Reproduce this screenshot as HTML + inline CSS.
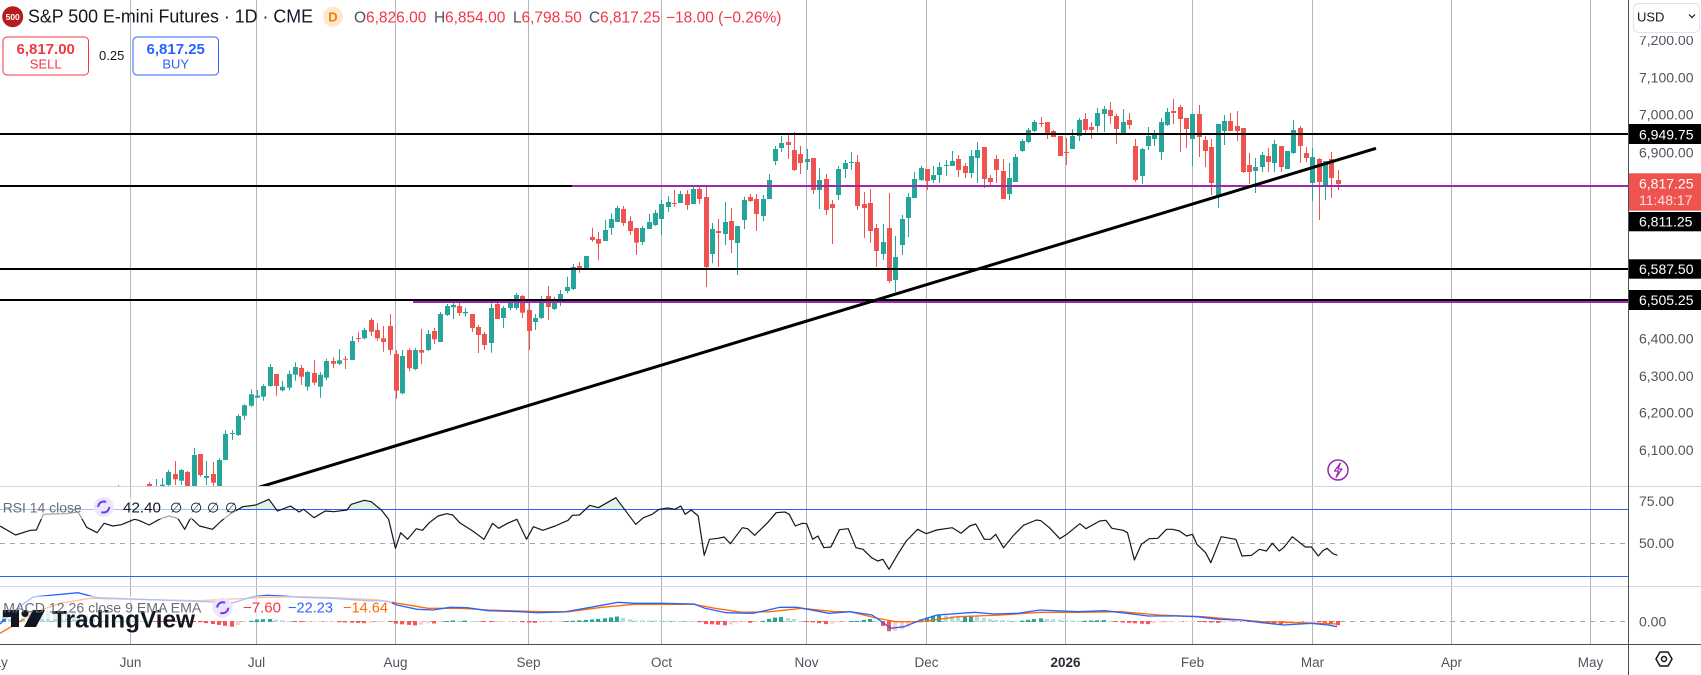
<!DOCTYPE html>
<html><head><meta charset="utf-8">
<style>
html,body{margin:0;padding:0;background:#fff;width:1701px;height:675px;overflow:hidden}
svg{display:block;font-family:"Liberation Sans","DejaVu Sans",sans-serif}
</style></head><body>
<svg id="c" width="1701" height="675" viewBox="0 0 1701 675" xmlns="http://www.w3.org/2000/svg">
<defs>
<clipPath id="pp"><rect x="0" y="0" width="1628" height="486"/></clipPath>
<clipPath id="rp"><rect x="0" y="487" width="1628" height="99"/></clipPath>
<clipPath id="ob"><rect x="0" y="487" width="1628" height="22"/></clipPath>
<clipPath id="mp"><rect x="0" y="587" width="1628" height="57"/></clipPath>
</defs>
<rect width="1701" height="675" fill="#fff"/>

<!-- vertical grid -->
<g stroke="#b2b5be" stroke-width="1">
<line x1="130.5" y1="0" x2="130.5" y2="644"/>
<line x1="256.5" y1="0" x2="256.5" y2="644"/>
<line x1="395.5" y1="0" x2="395.5" y2="644"/>
<line x1="528.5" y1="0" x2="528.5" y2="644"/>
<line x1="661.5" y1="0" x2="661.5" y2="644"/>
<line x1="806.5" y1="0" x2="806.5" y2="644"/>
<line x1="926.5" y1="0" x2="926.5" y2="644"/>
<line x1="1065.5" y1="0" x2="1065.5" y2="644"/>
<line x1="1192.5" y1="0" x2="1192.5" y2="644"/>
<line x1="1312.5" y1="0" x2="1312.5" y2="644"/>
<line x1="1451.5" y1="0" x2="1451.5" y2="644"/>
<line x1="1590.5" y1="0" x2="1590.5" y2="644"/>
</g>

<!-- pane separators -->
<line x1="0" y1="486.5" x2="1701" y2="486.5" stroke="#d1d4dc" stroke-width="1"/>
<line x1="0" y1="586.5" x2="1701" y2="586.5" stroke="#d1d4dc" stroke-width="1"/>

<!-- candles -->
<g id="candles" clip-path="url(#pp)"></g>

<!-- horizontal drawings -->
<g clip-path="url(#pp)">
<line x1="0" y1="134" x2="1628" y2="134" stroke="#000" stroke-width="2"/>
<line x1="0" y1="186" x2="572" y2="186" stroke="#000" stroke-width="2"/>
<line x1="572" y1="186" x2="1628" y2="186" stroke="#9c27b0" stroke-width="2"/>
<line x1="0" y1="269" x2="1628" y2="269" stroke="#000" stroke-width="2"/>
<line x1="0" y1="300" x2="1628" y2="300" stroke="#000" stroke-width="2"/>
<line x1="413" y1="302" x2="1628" y2="302" stroke="#9c27b0" stroke-width="2"/>
<line x1="250" y1="490" x2="1376" y2="148.3" stroke="#000" stroke-width="3"/>
</g>

<!-- lightning icon -->
<circle cx="1338" cy="470" r="10" fill="#fff" stroke="#9c27b0" stroke-width="1.5"/>
<path d="M1340.5 463 L1334.5 471 H1338.5 L1336 477.5 L1342 469 H1338 Z" fill="none" stroke="#9c27b0" stroke-width="1.2" stroke-linejoin="round"/>

<!-- RSI pane -->
<g clip-path="url(#rp)">
<line x1="0" y1="543.5" x2="1628" y2="543.5" stroke="#a3a6af" stroke-width="1" stroke-dasharray="5 5"/>
<g id="rfill"></g>
<rect x="0" y="509" width="1628" height="1" fill="#2962ff"/>
<rect x="0" y="576" width="1628" height="1" fill="#2962ff"/>
<g id="rsi"></g>
</g>

<!-- MACD pane -->
<g clip-path="url(#mp)">
<line x1="0" y1="621.5" x2="1628" y2="621.5" stroke="#a3a6af" stroke-width="1" stroke-dasharray="5 5"/>
<g id="hist"></g>
<g id="macd"></g>
</g>

<!-- axes -->
<line x1="0" y1="644.5" x2="1701" y2="644.5" stroke="#4a4e59" stroke-width="1"/>
<line x1="1628.5" y1="0" x2="1628.5" y2="675" stroke="#4a4e59" stroke-width="1"/>

<!-- price axis labels -->
<g font-size="14" fill="#50535e">
<text x="1639" y="45">7,200.00</text>
<text x="1639" y="82.3">7,100.00</text>
<text x="1639" y="119.3">7,000.00</text>
<text x="1639" y="157.3">6,900.00</text>
<text x="1639" y="343.3">6,400.00</text>
<text x="1639" y="381">6,300.00</text>
<text x="1639" y="417.7">6,200.00</text>
<text x="1639" y="455">6,100.00</text>
<text x="1639" y="506">75.00</text>
<text x="1639" y="548">50.00</text>
<text x="1639" y="626.7">0.00</text>
</g>
<rect x="1629" y="0" width="72" height="36" fill="#fff"/>
<rect x="1633.5" y="3.5" width="66" height="29" rx="5" fill="#fff" stroke="#e0e3eb"/>
<text x="1637" y="21.7" font-size="13" fill="#131722">USD</text>
<polyline points="1689,14.5 1692,17.5 1695,14.5" fill="none" stroke="#131722" stroke-width="1.2"/>

<g font-size="14" fill="#fff">
<rect x="1629" y="124" width="72" height="20" fill="#000"/>
<text x="1639" y="139.3">6,949.75</text>
<rect x="1629" y="173.3" width="72" height="37.4" fill="#ef5350"/>
<text x="1639" y="188.3">6,817.25</text>
<text x="1639" y="205" fill="#fde0e0">11:48:17</text>
<rect x="1629" y="212" width="72" height="19.3" fill="#000"/>
<text x="1639" y="226.5">6,811.25</text>
<rect x="1629" y="259.3" width="72" height="19.4" fill="#000"/>
<text x="1639" y="274">6,587.50</text>
<rect x="1629" y="290" width="72" height="20" fill="#000"/>
<text x="1639" y="305">6,505.25</text>
</g>

<!-- time axis labels -->
<g font-size="13.5" fill="#50535e" text-anchor="middle">
<text x="-5" y="667">May</text>
<text x="130.5" y="667">Jun</text>
<text x="256.5" y="667">Jul</text>
<text x="395.5" y="667">Aug</text>
<text x="528.5" y="667">Sep</text>
<text x="661.5" y="667">Oct</text>
<text x="806.5" y="667">Nov</text>
<text x="926.5" y="667">Dec</text>
<text x="1065.5" y="667" font-weight="bold" fill="#2a2e39">2026</text>
<text x="1192.5" y="667">Feb</text>
<text x="1312.5" y="667">Mar</text>
<text x="1451.5" y="667">Apr</text>
<text x="1590.5" y="667">May</text>
</g>
<polygon points="1656,659 1660,652 1668,652 1672,659 1668,666 1660,666" fill="none" stroke="#131722" stroke-width="1.5"/>
<circle cx="1664" cy="659" r="2.5" fill="none" stroke="#131722" stroke-width="1.5"/>

<!-- header -->
<circle cx="12.7" cy="16.7" r="10.5" fill="#b71c1c"/>
<text x="12.7" y="19.8" font-size="8.5" font-weight="bold" fill="#fff" text-anchor="middle">500</text>
<text x="28" y="22.7" font-size="18" fill="#131722" textLength="285" lengthAdjust="spacingAndGlyphs">S&amp;P 500 E-mini Futures · 1D · CME</text>
<circle cx="333" cy="16.7" r="10" fill="#ffe6cc"/>
<text x="333" y="21.5" font-size="13" font-weight="bold" fill="#f57c00" text-anchor="middle">D</text>
<g font-size="15.5">
<text x="354" y="22.7" fill="#50535e">O</text>
<text x="366" y="22.7" fill="#f23645">6,826.00</text>
<text x="434" y="22.7" fill="#50535e">H</text>
<text x="445" y="22.7" fill="#f23645">6,854.00</text>
<text x="513" y="22.7" fill="#50535e">L</text>
<text x="521.5" y="22.7" fill="#f23645">6,798.50</text>
<text x="589" y="22.7" fill="#50535e">C</text>
<text x="600" y="22.7" fill="#f23645">6,817.25</text>
<text x="666" y="22.7" fill="#f23645">−18.00 (−0.26%)</text>
</g>
<rect x="3" y="37" width="85.5" height="38" rx="4" fill="#fff" stroke="#f23645" stroke-width="1"/>
<text x="45.7" y="54" font-size="15" font-weight="bold" fill="#f23645" text-anchor="middle">6,817.00</text>
<text x="45.7" y="68.3" font-size="13" fill="#f23645" text-anchor="middle">SELL</text>
<text x="99" y="60" font-size="13" fill="#131722">0.25</text>
<rect x="133" y="37" width="85.5" height="38" rx="4" fill="#fff" stroke="#2962ff" stroke-width="1"/>
<text x="175.7" y="54" font-size="15" font-weight="bold" fill="#2962ff" text-anchor="middle">6,817.25</text>
<text x="175.7" y="68.3" font-size="13" fill="#2962ff" text-anchor="middle">BUY</text>

<!-- RSI legend -->
<rect x="0" y="497" width="236" height="22" fill="#fff" fill-opacity="0.6"/>
<text x="2.7" y="512.7" font-size="14" fill="#6a6d78" textLength="79" lengthAdjust="spacingAndGlyphs">RSI 14 close</text>
<circle cx="103.7" cy="507" r="10" fill="#ece5fd"/>
<circle cx="103.7" cy="507" r="5.5" fill="none" stroke="#6c3ce9" stroke-width="2" stroke-dasharray="11 6.3"/>
<text x="123" y="512.7" font-size="15" fill="#131722" textLength="38" lengthAdjust="spacingAndGlyphs">42.40</text>
<g font-size="14" fill="#131722">
<text x="170" y="512.7">∅</text><text x="190" y="512.7">∅</text><text x="207" y="512.7">∅</text><text x="225" y="512.7">∅</text>
</g>

<!-- MACD legend + watermark -->
<rect x="0" y="596" width="392" height="23" fill="#fff" fill-opacity="0.6"/>
<g fill="#131722">
<path d="M3 610 H19 V627 H11 V617 H3 Z"/>
<circle cx="25" cy="613.5" r="3.5"/>
<path d="M33 610 H45 L36 627 H24 Z"/>
<text x="52" y="627.3" font-size="24" font-weight="bold" textLength="143" lengthAdjust="spacingAndGlyphs">TradingView</text>
</g>
<text x="3.3" y="612.7" font-size="14" fill="#6a6d78" textLength="198" lengthAdjust="spacingAndGlyphs">MACD 12 26 close 9 EMA EMA</text>
<circle cx="222.7" cy="607.7" r="10" fill="#ece5fd"/>
<circle cx="222.7" cy="607.7" r="5.5" fill="none" stroke="#6c3ce9" stroke-width="2" stroke-dasharray="11 6.3"/>
<g font-size="15">
<text x="243" y="612.7" fill="#f23645" textLength="38" lengthAdjust="spacingAndGlyphs">−7.60</text>
<text x="288" y="612.7" fill="#2962ff" textLength="45" lengthAdjust="spacingAndGlyphs">−22.23</text>
<text x="343" y="612.7" fill="#ff6d00" textLength="45" lengthAdjust="spacingAndGlyphs">−14.64</text>
</g>
</svg>
<script>
(function(){
var NS='http://www.w3.org/2000/svg';
function mk(t,a,p){var e=document.createElementNS(NS,t);for(var k in a)e.setAttribute(k,a[k]);p.appendChild(e);return e;}
var D=[
[487,485,495,490],[492,489,498,494],[494,490,499,491],[491,488,497,493],[493,489,498,490],
[484,482,490,487],[490,479,492,486],[486,478.3,490,484.7],[485,470,487,472],[474,461,485,479.3],[480.7,469,485,470],[472,471,492,490],[490,447.7,492,455],[454,454,476.7,475],[478,461,485,476],[474,462,487,482.7],[487,458.3,488,460],[460,430.3,460,434],[434,430,440,433],[435,414.3,436,416],[415.7,404.3,420,405.3],[405.7,389.3,406.7,394.3],
[397.7,390,397.7,395.7],[396.7,384.3,400.7,386],[386,364,386.7,367],[374,374,395.7,386],[390.3,381,391.3,386.7],[387.7,370.7,390.3,374],[374.7,362.3,380.7,367],[368,365,385,376.7],[386.7,370.7,390.7,372],[373,360,385,382.7],
[386.7,372,397.7,374.7],[377.7,358.7,380,361],[361,357.3,368.3,363.7],[363.7,349,365,360.3],[358.7,356,369,359.7],[360,336,360,341],[338,331.7,342,339],[338.3,328,339.3,330],[320,318,336,331.7],[330,323,340.7,338.3],
[338.3,326,351.7,342],[326,314,355,350],[354,350,398.7,390.7],[393.3,350,394.3,356],[350,348.3,371.3,368.3],[369,348.3,370.3,350],[350,329,364,352.7],[350,330,351,334],[331,328,344,339.3],[342,312,342,314],
[315,304,316,306],[307.3,300,319,305],[306,300,316,313],[313.3,308,316.7,312],[314,314,332,328],[327,325,353,335],[334,332,350,345],[343,303.3,352.7,308],[304,301.7,319,319],[318,306,328,308],
[308,300,310,302.7],[308,293,310,295],[296,295,318,312.7],[310,300,350,331],[322,314,330,318],[318,296,319,299],[296,286,320,307],[309,296.7,310,300],[300,290,306,294],[291,276.7,293.3,287],
[289,264,290,267],[266,262,272.7,268.7],[268,256,268,256],[237,227.7,241.7,240],[239,232,260,243.7],[241,220,241,230],[228,213.3,235,219],[222,206,222,208],[209,206,226,223],[221,216,235,231],
[228,228,255,242.7],[242,226,245,228],[229,214,229,222],[225,210,226,213],[219,200,235,204],[207,196,212,202],[203,190,206.7,204],[203,191,203,194],[194,190,210,205],[204,186,204,189],
[189,186,204,199],[197,186,287,267],[254,223,263.3,229],[231,219,267,233],[234,202,245,222],[221,208,253,240],[243,226,275,226],[220,196.7,229,200],[197,194,202,201],[199,194,231,214],
[216,195,221,199],[199,174,199,180],[161,146,165,149],[148,136,152,143],[142,134,159,145],[150,132,171,170],[154,146,174,163],[162,149,170,159],[158,158,194,190],[190,168,209,180],
[179,174,215,210],[204,200,244,208],[195,166,200,169],[169,160,178,163],[163,152,170,162],[162,155,210,206],[204,192,238,208],[203,189,242.7,231],[228,224,267,251],[254,224,260,242],
[228,193,283,281],[280,236,292,257],[245,215,255,219],[218,193,237,197],[198,172,198,179],[180,166,181,168],[169,169,190,181],[180,166,183,175],[175,162,183,167],[166,160,176,165],
[166,151,166,161],[159,155,177,170],[166,163,178,173],[173,150,178,156],[158,142,183,150],[147,147,188,179],[178,175,186,182],[159,155,183,170],[171,159,199,199],[194,163,200,178],
[182,154,182,157],[151,139,152,141],[142,128,143,130],[131,120,132,122],[123,117,127,124],[122,122,139,134],[131,130,137,137],[136,136,156,156],[152,138,165,153],[149,129,149,136],
[136,118,141,120],[119,113,133,130],[127,122,139,130],[126,108,132,113],[114,106,132,109],[110,102,124,116],[116,114,144,129],[133,109,133,122],[120,113,129,125],[146,139,182,180],
[176,148,184,149],[146,127,150,136],[139,130,146,135],[152,118,160,122],[125,108,126,112],[111,99,124,113],[107,105,152,119],[118,118,148,129],[139,114,166,114],[114,105,157,137],
[140,136,167,151],[147,139,195,183],[196,124,208,124],[131,115,145,121],[121,113,131,131],[126,111,141,131],[128,128,173,172],[165,153,184,172],[171,158,193,167],[167,152,172,155],
[156,148,172,162],[163,140,172,144],[146,146,172,167],[169,151,169,151],[153,120,154,130],[128,126,163,146],[153,147,162,158],[183,148,201,157],[159,158,220,182],[185,161,200,161],
[159,152,198,178],[180,170,190,184]
];
var X0=130.5,DX=6.32;
var cg=document.getElementById('candles');
for(var j=0;j<D.length;j++){
 var i=j-2,x=X0+i*DX,d=D[j],o=d[0],h=d[1],l=d[2],c=d[3];
 var col=(c<=o)?'#26a69a':'#ef5350';
 var xr=Math.round(x);
 mk('line',{x1:xr+0.5,x2:xr+0.5,y1:h,y2:l,stroke:col,'stroke-width':1},cg);
 var top=Math.min(o,c),ht=Math.max(1,Math.abs(o-c));
 mk('rect',{x:xr-2,y:top,width:5,height:ht,fill:col},cg);
}
// RSI
var R=[0,120,18,147,35,133,42,132,50,85,60,84,75,83,90,78,100,124,112,140,120,112,130,120,140,116,155,100,160,103,172,117,185,98,195,90,205,97,213,130,220,95,230,120,245,130,255,105,265,85,280,62,295,57,310,40,320,75,335,60,345,78,350,70,362,95,375,75,385,77,400,72,405,55,420,43,428,47,440,73,448,100,456,187,462,140,470,160,480,128,487,133,495,110,505,90,515,83,522,87,530,110,545,135,558,160,568,112,575,127,585,112,596,100,607,160,615,122,626,133,640,120,655,103,660,88,668,87,680,58,690,65,710,35,720,70,733,115,742,95,752,85,760,70,770,66,778,70,785,60,790,85,797,72,805,90,812,208,818,160,828,157,835,153,842,173,856,125,862,128,870,148,885,110,895,80,905,78,910,85,917,120,925,112,930,113,937,160,943,150,950,185,958,183,968,131,978,128,987,185,995,190,1005,215,1012,225,1018,220,1025,250,1035,205,1045,165,1058,130,1068,143,1080,132,1098,125,1108,142,1118,120,1125,114,1135,160,1142,160,1148,145,1157,185,1168,150,1180,118,1195,102,1200,104,1210,125,1222,158,1230,145,1245,113,1252,128,1268,105,1275,103,1282,127,1295,133,1300,140,1308,222,1316,175,1325,158,1335,157,1345,130,1352,130,1360,135,1368,150,1375,145,1380,175,1390,200,1396,230,1408,152,1418,157,1425,160,1432,210,1443,208,1452,190,1460,195,1467,172,1475,195,1480,185,1490,152,1505,183,1512,183,1520,210,1525,195,1530,187,1537,203,1542,208];
var pts=[];for(var k=0;k<R.length;k+=2)pts.push([R[k]/1.153,486+R[k+1]/3]);
var ps=pts.map(function(p){return p[0].toFixed(1)+','+p[1].toFixed(1);}).join(' ');
mk('polygon',{points:ps+' '+pts[pts.length-1][0].toFixed(1)+',509 0,509',fill:'rgba(76,175,80,0.16)','clip-path':'url(#ob)'},document.getElementById('rfill'));
mk('polyline',{points:ps,fill:'none',stroke:'#131722','stroke-width':1.2,'stroke-linejoin':'round'},document.getElementById('rsi'));
// MACD
var B=[[0,624],[15,610],[33,597],[78,592.7],[97,597.7],[133,599],[200,601.5],[233,602.7],[253,596.7],[267,595.3],[283,596],[300,597.3],[333,598.3],[367,600.7],[387,601],[397,605],[417,609.3],[433,610],[450,607.3],[467,607.7],[488,610.7],[520,611.7],[537,612.7],[564,612],[585,608.3],[618,602.3],[634,603.3],[661,603.3],[694,604],[705,608.3],[726,612.7],[753,613.3],[780,607.3],[797,607.3],[808,609.3],[829,613.3],[850,611.7],[872,615],[891,628.3],[904,626.7],[921,620],[937,615],[975,612.3],[994,614],[1018,613.3],[1040,610],[1078,611.7],[1105,610.7],[1127,613.3],[1148,616],[1176,616],[1197,616.7],[1219,619.3],[1241,620],[1262,622.7],[1284,625],[1311,623.3],[1328,625],[1337,626.7]];
var O=[[0,633.3],[17,623.3],[33,613],[60,603.3],[90,598.3],[133,599.3],[200,600.7],[267,597.3],[300,596.7],[333,597.7],[367,599.3],[379,600],[398,603.3],[428,608.3],[461,608.3],[488,610],[542,611.7],[569,611.7],[602,607.3],[634,604.3],[694,604.3],[715,608.3],[742,612.3],[770,611.7],[802,608.3],[835,611.7],[850,611.7],[877,618.3],[896,621.7],[921,621.7],[958,616.7],[1002,615],[1040,612.3],[1078,612.3],[1121,611.7],[1159,615],[1203,616.7],[1230,619],[1262,621.7],[1300,622.7],[1337,624]];
function itp(A,x){for(var k=0;k<A.length-1;k++){if(x>=A[k][0]&&x<=A[k+1][0]){var t=(x-A[k][0])/(A[k+1][0]-A[k][0]);return A[k][1]+t*(A[k+1][1]-A[k][1]);}}return x<A[0][0]?A[0][1]:A[A.length-1][1];}
var hg=document.getElementById('hist'),prev=null;
for(var i2=-21;i2<=191;i2++){
 var x2=X0+i2*DX;if(x2<1)continue;
 var dd=(itp(B,x2)-itp(O,x2))*1.6;
 if(dd>11)dd=11;if(dd<-11)dd=-11;
 var colh;
 if(dd<0){colh=(prev===null||dd<prev)?'#26a69a':'#b2dfdb';}
 else{colh=(prev===null||dd>prev)?'#ff5252':'#ffcdd2';}
 prev=dd;
 var hh=Math.max(1,Math.abs(dd));
 mk('rect',{x:Math.round(x2)-2,y:dd<0?622-hh:621,width:4,height:hh,fill:colh},hg);
}
function pl(A){return A.map(function(p){return p[0]+','+p[1];}).join(' ');}
var mg=document.getElementById('macd');
mk('polyline',{points:pl(O),fill:'none',stroke:'#ff6d00','stroke-width':1.3},mg);
mk('polyline',{points:pl(B),fill:'none',stroke:'#2962ff','stroke-width':1.3},mg);
})();
</script>
</body></html>
